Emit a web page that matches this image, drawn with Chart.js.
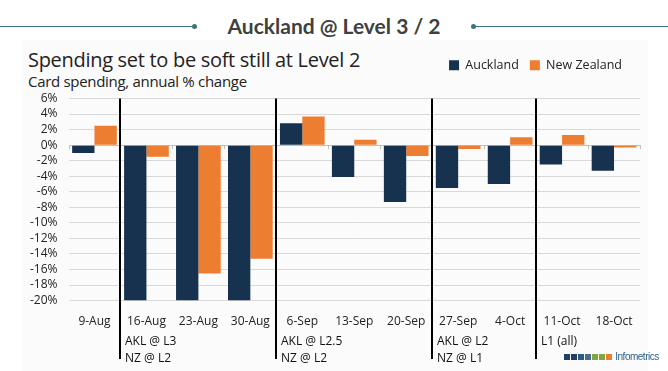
<!DOCTYPE html>
<html>
<head>
    <meta charset="UTF-8">
    <title>Auckland @ Level 3 / 2</title>
    <script src="https://cdn.jsdelivr.net/npm/chart.js"></script>
    <style>
        body {
            margin: 0;
            width: 668px;
            height: 371px;
            overflow: hidden;
            background: #ffffff;
            font-family: "Open Sans", sans-serif;
            position: relative;
        }

        .header {
            position: absolute;
            top: 13px;
            left: 0;
            width: 668px;
            text-align: center;
            font-family: Lato, sans-serif;
            font-weight: bold;
            font-size: 21px;
            color: #404040;
        }

        .hline {
            position: absolute;
            top: 26px;
            height: 1px;
            background: #3f7180;
        }

        .dot {
            position: absolute;
            top: 24px;
            width: 5px;
            height: 5px;
            border-radius: 50%;
            background: #3f7180;
        }

        .panel {
            position: absolute;
            left: 22px;
            top: 40px;
            width: 626px;
            height: 331px;
            background: #fbfbfb;
        }

        #title {
            position: absolute;
            left: 28px;
            top: 46px;
            font-family: "Open Sans", sans-serif;
            font-size: 20px;
            color: #222;
            letter-spacing: -0.3px;
        }

        #subtitle {
            position: absolute;
            left: 28px;
            top: 71px;
            font-family: "Open Sans", sans-serif;
            font-size: 15px;
            color: #222;
            letter-spacing: -0.3px;
        }

        #chart-box {
            position: absolute;
            left: 0;
            top: 0;
            width: 668px;
            height: 371px;
        }

        .logo {
            position: absolute;
            left: 564px;
            top: 351px;
            font-family: "Liberation Sans Narrow", "Liberation Sans", sans-serif;
            font-size: 10px;
            color: #2f5f8f;
            letter-spacing: -0.5px;
        }

        .logo span.sq {
            display: inline-block;
            width: 6px;
            height: 6px;
            margin-right: 1px;
        }
    </style>
</head>
<body>
<div class="hline" style="left:0;width:194px"></div>
<div class="dot" style="left:192px"></div>
<div class="hline" style="left:474px;width:194px"></div>
<div class="dot" style="left:471px"></div>
<div class="header">Auckland @ Level 3 / 2</div>
<div class="panel"></div>
<div id="title">Spending set to be soft still at Level 2</div>
<div id="subtitle">Card spending, annual % change</div>
<div id="chart-box">
    <canvas id="chart" width="668" height="371"></canvas>
</div>
<div class="logo"><span class="sq" style="background:#1f3f66"></span><span class="sq" style="background:#1f3f66"></span><span class="sq" style="background:#2c5b8a"></span><span class="sq" style="background:#4d6f8f"></span><span class="sq" style="background:#7fa63f"></span><span class="sq" style="background:#7fa63f"></span><span class="sq" style="background:#ed7d31"></span> Infometrics</div>

<script>
    // weeks
    const weeks = ["9-Aug", "16-Aug", "23-Aug", "30-Aug", "6-Sep", "13-Sep", "20-Sep",
        "27-Sep", "4-Oct", "11-Oct", "18-Oct"];

    // annual % change
    const auckland = [-1.0, -20, -20, -20, 2.8, -4.1, -7.3, -5.5, -5.0, -2.5, -3.3];
    const newZealand = [2.5, -1.5, -16.5, -14.6, 3.7, 0.7, -1.4, -0.5, 1.0, 1.3, -0.3];

    const yTicks = [6, 4, 2, 0, -2, -4, -6, -8, -10, -12, -14, -16, -18, -20];

    // alert level phases: first week index of each phase, and its note
    const phaseStarts = [1, 4, 7, 9];
    const phaseNotes = [
        ["AKL @ L3", "NZ @ L2"],
        ["AKL @ L2.5", "NZ @ L2"],
        ["AKL @ L2", "NZ @ L1"],
        ["L1 (all)"]
    ];

    const navy = "#17324f";
    const orange = "#ed7d31";

    // extra room under the legend, and pull it a little to the left
    const legendSpace = {
        id: "legendSpace",
        beforeInit(chart) {
            const fit = chart.legend.fit;
            chart.legend.fit = function () {
                fit.bind(chart.legend)();
                this.height += 17;
            };
        },
        beforeDraw(chart) {
            chart.legend.right = chart.width - 35;
        }
    };

    const phasePlugin = {
        id: "phases",
        afterDatasetsDraw(chart) {
            const ctx = chart.ctx;
            const x = chart.scales.x;
            const y = chart.scales.y;
            const step = x.getPixelForValue(1) - x.getPixelForValue(0);

            // small tick marks on the zero line
            ctx.save();
            ctx.strokeStyle = "#bfbfbf";
            ctx.lineWidth = 1;
            const y0 = y.getPixelForValue(0);
            for (let i = 0; i <= weeks.length; i++) {
                const px = Math.round(x.getPixelForValue(i) - step / 2) + 0.5;
                ctx.beginPath();
                ctx.moveTo(px, y0);
                ctx.lineTo(px, y0 + 4);
                ctx.stroke();
            }

            // separators + notes
            ctx.strokeStyle = "#000";
            ctx.lineWidth = 2;
            ctx.fillStyle = "#111";
            ctx.font = "12px 'Open Sans', sans-serif";
            ctx.textBaseline = "middle";
            phaseStarts.forEach((start, k) => {
                const px = Math.round(x.getPixelForValue(start) - step / 2);
                ctx.beginPath();
                ctx.moveTo(px, y.top);
                ctx.lineTo(px, 359);
                ctx.stroke();
                phaseNotes[k].forEach((line, j) => {
                    ctx.fillText(line, px + 5, 342 + j * 17);
                });
            });
            ctx.restore();
        }
    };

    new Chart(document.getElementById("chart"), {
        type: "bar",
        data: {
            labels: weeks,
            datasets: [
                {label: "Auckland", data: auckland, backgroundColor: navy},
                {label: "New Zealand", data: newZealand, backgroundColor: orange}
            ]
        },
        options: {
            responsive: false,
            animation: false,
            datasets: {
                bar: {categoryPercentage: 0.86, barPercentage: 1.0}
            },
            layout: {
                padding: {top: 48, left: 19, right: 28, bottom: 36}
            },
            plugins: {
                legend: {
                    position: "top",
                    align: "end",
                    labels: {
                        boxWidth: 10,
                        boxHeight: 10,
                        padding: 11,
                        color: "#222",
                        font: {family: "Open Sans", size: 12.5}
                    }
                },
                tooltip: {enabled: false}
            },
            scales: {
                x: {
                    grid: {display: false},
                    border: {display: false},
                    ticks: {
                        color: "#222",
                        font: {family: "Open Sans", size: 12},
                        maxRotation: 0,
                        padding: 6
                    }
                },
                y: {
                    min: -20,
                    max: 6,
                    afterBuildTicks: axis => {
                        axis.ticks = yTicks.map(v => ({value: v}));
                    },
                    grid: {
                        color: c => c.tick && c.tick.value === 0 ? "#bfbfbf" : "#d9d9d9",
                        drawTicks: false
                    },
                    border: {display: false},
                    ticks: {
                        autoSkip: false,
                        color: "#222",
                        font: {family: "Open Sans", size: 12},
                        padding: 11,
                        callback: v => v + "%"
                    }
                }
            }
        },
        plugins: [legendSpace, phasePlugin]
    });
</script>
</body>
</html>
